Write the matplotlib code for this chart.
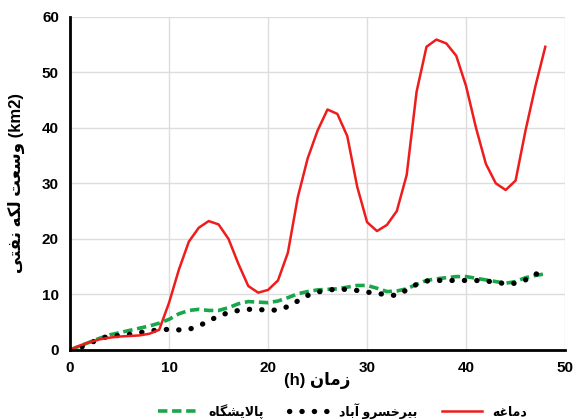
import matplotlib
matplotlib.use("Agg")
import matplotlib.pyplot as plt

plt.rcParams['font.family'] = ['Liberation Sans', 'DejaVu Sans']

# hourly values
hours = list(range(49))
damagheh = [0, 0.8, 1.4, 1.9, 2.2, 2.4, 2.5, 2.6, 2.9, 3.6, 8.5, 14.5, 19.5, 22.0, 23.2,
            22.6, 20.0, 15.5, 11.5, 10.3, 10.8, 12.5, 17.5, 27.5, 34.5, 39.5, 43.3, 42.5,
            38.5, 29.4, 23.0, 21.4, 22.5, 25.0, 31.5, 46.5, 54.6, 55.9, 55.2, 53.0, 47.5,
            40.0, 33.5, 30.0, 28.8, 30.5, 39.5, 47.5, 54.6]
khosroabad = [0, 0.4, 1.2, 2.0, 2.5, 2.6, 2.8, 3.1, 3.4, 3.6, 3.7, 3.6, 3.7, 4.3, 5.2,
              6.1, 6.7, 7.1, 7.3, 7.3, 7.1, 7.2, 7.8, 8.8, 9.8, 10.4, 10.8, 10.9, 10.9,
              10.7, 10.4, 10.2, 9.9, 9.8, 10.8, 11.8, 12.4, 12.5, 12.5, 12.5, 12.5, 12.5,
              12.4, 12.2, 11.9, 12.0, 12.6, 13.7, 13.4]
palayeshgah = [0, 0.7, 1.4, 2.1, 2.7, 3.1, 3.5, 3.9, 4.3, 4.8, 5.5, 6.5, 7.1, 7.3, 7.1,
               7.1, 7.6, 8.3, 8.7, 8.6, 8.5, 8.8, 9.4, 10.1, 10.5, 10.8, 10.9, 11.0, 11.3,
               11.6, 11.6, 11.1, 10.5, 10.6, 11.0, 11.8, 12.5, 12.8, 13.0, 13.2, 13.2, 12.9,
               12.6, 12.3, 12.0, 12.3, 13.0, 13.4, 13.7]

# Arabic/Persian letter forms: isolated, final, initial, medial
FORMS = {
    'ا': ('\uFE8D', '\uFE8E', None, None),
    'آ': ('\uFE81', '\uFE82', None, None),
    'ب': ('\uFE8F', '\uFE90', '\uFE91', '\uFE92'),
    'پ': ('\uFB56', '\uFB57', '\uFB58', '\uFB59'),
    'ت': ('\uFE95', '\uFE96', '\uFE97', '\uFE98'),
    'خ': ('\uFEA5', '\uFEA6', '\uFEA7', '\uFEA8'),
    'د': ('\uFEA9', '\uFEAA', None, None),
    'ر': ('\uFEAD', '\uFEAE', None, None),
    'ز': ('\uFEAF', '\uFEB0', None, None),
    'س': ('\uFEB1', '\uFEB2', '\uFEB3', '\uFEB4'),
    'ش': ('\uFEB5', '\uFEB6', '\uFEB7', '\uFEB8'),
    'ع': ('\uFEC9', '\uFECA', '\uFECB', '\uFECC'),
    'غ': ('\uFECD', '\uFECE', '\uFECF', '\uFED0'),
    'ف': ('\uFED1', '\uFED2', '\uFED3', '\uFED4'),
    'ل': ('\uFEDD', '\uFEDE', '\uFEDF', '\uFEE0'),
    'م': ('\uFEE1', '\uFEE2', '\uFEE3', '\uFEE4'),
    'ن': ('\uFEE5', '\uFEE6', '\uFEE7', '\uFEE8'),
    'ه': ('\uFEE9', '\uFEEA', '\uFEEB', '\uFEEC'),
    'و': ('\uFEED', '\uFEEE', None, None),
    'ک': ('\uFB8E', '\uFB8F', '\uFB90', '\uFB91'),
    'گ': ('\uFB92', '\uFB93', '\uFB94', '\uFB95'),
    'ی': ('\uFBFC', '\uFBFD', '\uFBFE', '\uFBFF'),
}
LAM_ALEF = {'ا': ('\uFEFB', '\uFEFC'), 'آ': ('\uFEF5', '\uFEF6')}


def rtl(text):
    # join letters, then reverse for left-to-right drawing
    out = []
    i = 0
    prev_joins = False
    while i < len(text):
        c = text[i]
        if c not in FORMS:
            out.append(c)
            prev_joins = False
            i += 1
            continue
        if c == 'ل' and i + 1 < len(text) and text[i + 1] in LAM_ALEF:
            out.append(LAM_ALEF[text[i + 1]][1 if prev_joins else 0])
            prev_joins = False
            i += 2
            continue
        f = FORMS[c]
        nxt = text[i + 1] if i + 1 < len(text) else ''
        next_joins = f[2] is not None and nxt in FORMS
        if prev_joins and next_joins:
            out.append(f[3])
        elif prev_joins:
            out.append(f[1])
        elif next_joins:
            out.append(f[2])
        else:
            out.append(f[0])
        prev_joins = next_joins
        i += 1
    return ''.join(reversed(out))


fig = plt.figure(figsize=(5.79, 4.2), dpi=100)
ax = fig.add_axes([0.121, 0.167, 0.855, 0.793])

ax.plot(hours, palayeshgah, color='#1aa64a', lw=2.6, ls=(0, (2.6, 1.3)),
        label=rtl('پالایشگاه'))
ax.plot(hours, khosroabad, color='black', lw=3.8, ls=(0, (0.05, 2.3)),
        dash_capstyle='round', label=rtl('بیرخسرو آباد'))
ax.plot(hours, damagheh, color='#ee1c1c', lw=1.8, label=rtl('دماغه'))

ax.set_xlim(0, 50)
ax.set_ylim(0, 60)
ax.set_xticks(range(0, 51, 10))
ax.set_yticks(range(0, 61, 10))
ax.grid(True, color='#dddddd', lw=1)
ax.set_axisbelow(True)
ax.tick_params(length=0, labelsize=11, pad=8)
for lab in ax.get_xticklabels() + ax.get_yticklabels():
    lab.set_fontweight('bold')
for s in ['top', 'right']:
    ax.spines[s].set_visible(False)
for s in ['left', 'bottom']:
    ax.spines[s].set_linewidth(2)
    ax.spines[s].set_color('black')

ax.set_ylabel(rtl('وسعت لکه نفتی') + ' (km2)', fontsize=12, fontweight='bold', labelpad=12)
ax.set_xlabel('(h) ' + rtl('زمان'), fontsize=12, fontweight='bold', labelpad=-2)

ax.legend(loc='upper center', bbox_to_anchor=(0.55, -0.125), ncol=3, frameon=False,
          handlelength=3.2, columnspacing=2.0, prop={'weight': 'bold', 'size': 9})

fig.savefig('out.png', dpi=100)
